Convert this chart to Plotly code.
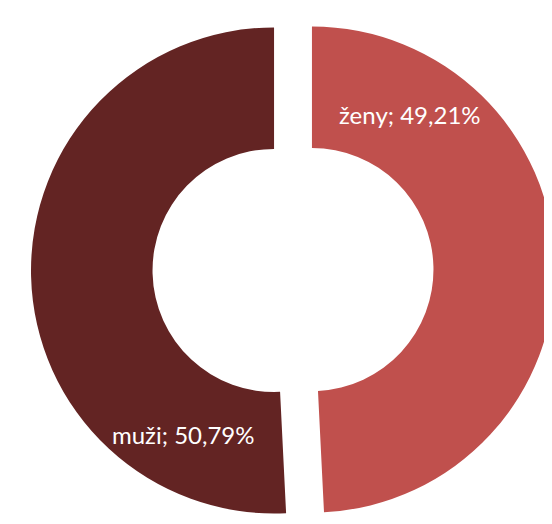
import plotly.graph_objects as go

# Data
labels = ["ženy", "muži"]
values = [49.21, 50.79]
label_texts = ["ženy; 49,21%", "muži; 50,79%"]
colors = ["#C0504D", "#632423"]

W, H = 552, 524

fig = go.Figure()
fig.add_trace(go.Pie(
    labels=labels,
    values=values,
    hole=0.5,
    sort=False,
    direction="clockwise",
    rotation=0,
    pull=[0.078, 0.078],
    marker=dict(colors=colors, line=dict(width=0)),
    textinfo="none",
    hoverinfo="label+percent",
    showlegend=False,
    domain=dict(x=[23 / W, 547 / W], y=[0, 1]),
))

label_pos = [(402 / W, 1 - 106 / H), (175 / W, 1 - 426 / H)]
for (x, y), t in zip(label_pos, label_texts):
    fig.add_annotation(
        x=x, y=y, xref="paper", yref="paper",
        text=t, showarrow=False,
        font=dict(family="Lato, Open Sans, sans-serif", size=24, color="white"),
        xanchor="center", yanchor="middle",
    )

fig.update_layout(
    width=W, height=H,
    margin=dict(l=0, r=0, t=0, b=0),
    paper_bgcolor="white",
    plot_bgcolor="white",
)

fig.write_html("out.html")
